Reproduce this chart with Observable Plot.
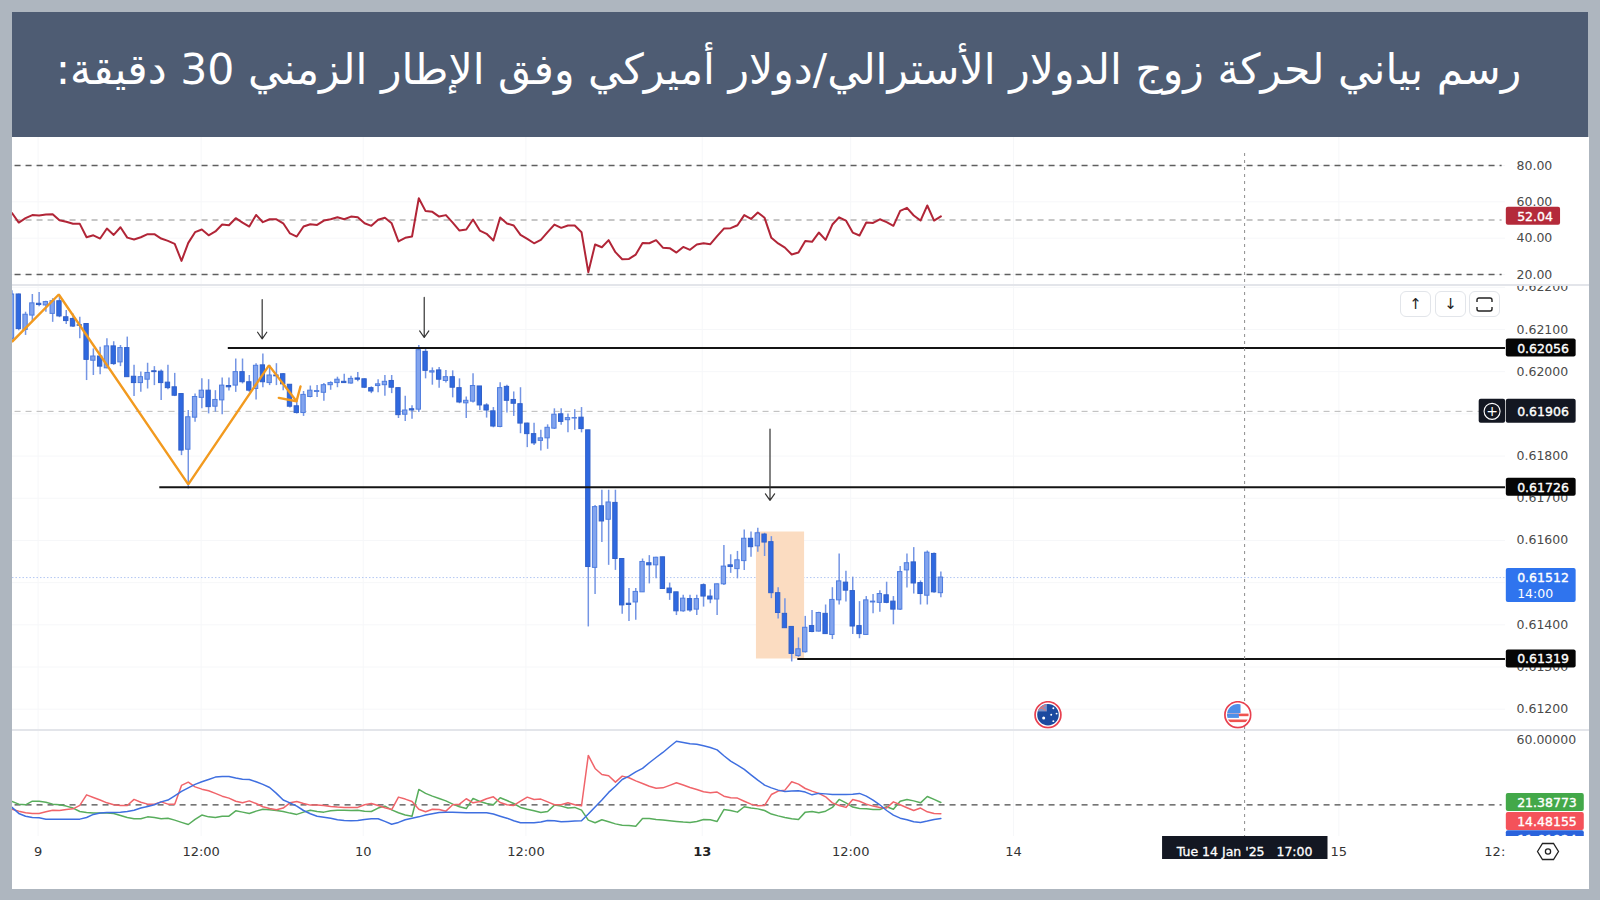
<!DOCTYPE html>
<html lang="ar">
<head>
<meta charset="utf-8">
<script src="https://cdn.jsdelivr.net/npm/d3@7"></script>
<script src="https://cdn.jsdelivr.net/npm/@observablehq/plot@0.6"></script>
<style>
html,body{margin:0;padding:0;width:1600px;height:900px;overflow:hidden;background:#aeb6bf;font-family:"DejaVu Sans",sans-serif}
#banner{position:absolute;left:12px;top:12px;width:1576px;height:125px;background:#4e5c73;color:#fff}
#banner h1{position:absolute;left:0;right:0;top:0;margin:0;line-height:114px;font-weight:400;font-size:42.6px;text-align:center;direction:rtl;padding-right:23px;font-family:"DejaVu Sans",sans-serif;white-space:nowrap}
#panel{position:absolute;left:12px;top:137px;width:1577px;height:752px;background:#fff}
.pane{position:absolute;left:12px}
.pane svg{display:block;max-width:none;background:transparent}
.sep{position:absolute;left:12px;width:1577px;height:2px;background:#e3e5ea}
.btn{position:absolute;top:291px;width:29px;height:24px;border:1px solid #e2e5ea;border-radius:6px;background:#fff;display:flex;align-items:center;justify-content:center;font-size:15px;color:#222}
</style>
</head>
<body>
<div id="banner"><h1>رسم بياني لحركة زوج الدولار الأسترالي/دولار أميركي وفق الإطار الزمني 30 دقيقة:</h1></div>
<div id="panel"></div>
<div class="pane" id="rsiPane" style="top:137px"></div>
<div class="pane" id="pricePane" style="top:285px"></div>
<div class="pane" id="dmiPane" style="top:730px"></div>
<div class="pane" id="timePane" style="top:836px"></div>
<div class="sep" style="top:284px"></div>
<div class="sep" style="top:729px"></div>
<div class="btn" style="left:1400px">↑</div>
<div class="btn" style="left:1435px">↓</div>
<div class="btn" style="left:1469px"><svg width="17" height="15" viewBox="0 0 17 15" fill="none" stroke="#222" stroke-width="1.4"><path d="M1 5V3a2 2 0 0 1 2-2h11a2 2 0 0 1 2 2v2M1 10v2a2 2 0 0 0 2 2h11a2 2 0 0 0 2-2v-2"/></svg></div>
<svg style="position:absolute;left:1536px;top:842px" width="24" height="19" viewBox="0 0 24 19" fill="none" stroke="#222" stroke-width="1.3"><path d="M1.5 9.5 6.5 1.5h11l5 8-5 8h-11z"/><circle cx="12" cy="9.5" r="2.6"/></svg>

<script>
const open = [0.62078,0.62183,0.62099,0.62133,0.62161,0.62157,0.62137,0.62167,0.62129,0.62125,0.62110,0.62113,0.62026,0.62036,0.62008,0.62060,0.62022,0.62056,0.61988,0.61973,0.61981,0.62001,0.62000,0.61974,0.61963,0.61947,0.61815,0.61891,0.61938,0.61955,0.61917,0.61932,0.61966,0.61967,0.61999,0.61975,0.61959,0.62015,0.61973,0.61991,0.61994,0.61969,0.61918,0.61902,0.61940,0.61952,
0.61950,0.61968,0.61973,0.61976,0.61972,0.61984,0.61982,0.61961,0.61966,0.61968,0.61978,0.61961,0.61898,0.61911,0.61910,0.62047,0.61998,0.62003,0.61978,0.61987,0.61961,0.61925,0.61929,0.61965,0.61920,0.61906,0.61869,0.61964,0.61933,0.61923,0.61877,0.61852,0.61836,0.61842,0.61865,0.61899,0.61885,0.61889,0.61891,0.61861,0.61535,0.61681,0.61649,0.61689,0.61556,0.61450,0.61453,
0.61477,0.61546,0.61541,0.61560,0.61486,0.61477,0.61432,0.61461,0.61436,0.61494,0.61467,0.61460,0.61496,0.61541,0.61532,0.61551,0.61604,0.61586,0.61614,0.61596,0.61475,0.61426,0.61395,0.61326,0.61335,0.61397,0.61384,0.61426,0.61376,0.61458,0.61500,0.61480,0.61397,0.61376,0.61453,0.61452,0.61470,0.61455,0.61436,0.61529,0.61548,0.61499,0.61469,0.61568,0.61475];
const high = [0.62192,0.62184,0.62141,0.62183,0.62188,0.62167,0.62173,0.62180,0.62145,0.62137,0.62129,0.62113,0.62054,0.62058,0.62078,0.62071,0.62062,0.62082,0.62015,0.61999,0.62020,0.62012,0.62004,0.62015,0.61996,0.61947,0.61908,0.61947,0.61983,0.61981,0.61955,0.61985,0.61985,0.62030,0.62030,0.61991,0.62019,0.62042,0.62015,0.62019,0.61996,0.61969,0.61933,0.61953,0.61966,0.61967,
0.61972,0.61976,0.61987,0.61994,0.61989,0.61998,0.61983,0.61964,0.61981,0.61991,0.61991,0.61962,0.61942,0.61919,0.62062,0.62057,0.62009,0.62010,0.62003,0.62002,0.61983,0.61940,0.61995,0.61965,0.61924,0.61915,0.61974,0.61968,0.61952,0.61962,0.61878,0.61878,0.61861,0.61874,0.61912,0.61912,0.61900,0.61910,0.61915,0.61861,0.61683,0.61719,0.61719,0.61719,0.61556,0.61486,0.61486,
0.61556,0.61564,0.61560,0.61560,0.61499,0.61477,0.61470,0.61470,0.61470,0.61497,0.61483,0.61497,0.61588,0.61566,0.61574,0.61625,0.61620,0.61629,0.61617,0.61609,0.61488,0.61462,0.61395,0.61369,0.61420,0.61434,0.61430,0.61447,0.61488,0.61568,0.61527,0.61513,0.61455,0.61467,0.61472,0.61481,0.61501,0.61467,0.61538,0.61568,0.61583,0.61504,0.61575,0.61570,0.61525];
const low = [0.62074,0.62097,0.62086,0.62117,0.62154,0.62141,0.62117,0.62128,0.62112,0.62105,0.62078,0.61979,0.61991,0.61993,0.62007,0.62015,0.62012,0.61987,0.61941,0.61951,0.61959,0.61967,0.61932,0.61957,0.61941,0.61801,0.61722,0.61880,0.61912,0.61900,0.61904,0.61898,0.61954,0.61951,0.61971,0.61951,0.61933,0.61962,0.61967,0.61967,0.61955,0.61914,0.61900,0.61894,0.61938,0.61939,
0.61930,0.61956,0.61962,0.61972,0.61970,0.61976,0.61960,0.61948,0.61950,0.61942,0.61948,0.61889,0.61882,0.61887,0.61903,0.61983,0.61968,0.61961,0.61973,0.61938,0.61924,0.61889,0.61926,0.61908,0.61890,0.61867,0.61867,0.61902,0.61894,0.61853,0.61820,0.61825,0.61812,0.61816,0.61863,0.61873,0.61855,0.61861,0.61855,0.61395,0.61472,0.61595,0.61541,0.61529,0.61425,0.61408,0.61411,
0.61477,0.61497,0.61509,0.61484,0.61458,0.61422,0.61430,0.61430,0.61422,0.61442,0.61450,0.61422,0.61493,0.61522,0.61509,0.61529,0.61560,0.61572,0.61562,0.61462,0.61414,0.61391,0.61312,0.61323,0.61333,0.61381,0.61383,0.61377,0.61365,0.61447,0.61454,0.61377,0.61367,0.61375,0.61426,0.61430,0.61450,0.61400,0.61434,0.61487,0.61473,0.61447,0.61447,0.61475,0.61464];
const close = [0.62183,0.62101,0.62135,0.62162,0.62158,0.62165,0.62167,0.62131,0.62120,0.62107,0.62109,0.62028,0.62036,0.62012,0.62060,0.62018,0.62056,0.61987,0.61973,0.61987,0.61997,0.61999,0.61973,0.61961,0.61943,0.61813,0.61892,0.61940,0.61955,0.61916,0.61933,0.61967,0.61963,0.61999,0.61975,0.61955,0.62014,0.61975,0.61991,0.61989,0.61970,0.61917,0.61902,0.61945,0.61955,0.61954,
0.61968,0.61973,0.61981,0.61973,0.61983,0.61981,0.61962,0.61953,0.61970,0.61976,0.61962,0.61897,0.61908,0.61908,0.62051,0.62002,0.62001,0.61981,0.61987,0.61962,0.61927,0.61931,0.61966,0.61920,0.61908,0.61870,0.61961,0.61931,0.61924,0.61877,0.61852,0.61830,0.61842,0.61867,0.61898,0.61881,0.61890,0.61890,0.61864,0.61537,0.61679,0.61645,0.61690,0.61556,0.61446,0.61447,0.61478,
0.61549,0.61541,0.61559,0.61485,0.61475,0.61432,0.61462,0.61434,0.61461,0.61467,0.61460,0.61496,0.61538,0.61537,0.61553,0.61604,0.61584,0.61617,0.61595,0.61475,0.61428,0.61392,0.61331,0.61342,0.61393,0.61383,0.61428,0.61378,0.61459,0.61503,0.61481,0.61396,0.61378,0.61458,0.61455,0.61473,0.61452,0.61436,0.61525,0.61546,0.61498,0.61473,0.61571,0.61477,0.61512];

const rsi = [53.8,48.6,51.0,52.7,52.5,53.0,53.2,49.9,49.0,47.9,47.9,40.5,41.6,39.8,45.3,41.8,46.0,40.3,39.3,40.5,42.2,42.2,39.8,38.5,36.9,27.5,37.4,43.3,44.8,41.6,43.7,47.5,47.1,51.0,48.6,46.4,52.8,48.8,50.4,50.4,48.2,42.6,40.9,46.4,47.7,47.3,49.7,50.4,51.5,50.4,51.9,51.5,48.2,46.8,50.1,51.2,48.2,38.2,40.2,40.9,62.0,54.9,54.5,51.9,52.7,48.6,44.2,44.8,50.3,44.2,
42.4,38.7,51.4,48.1,47.0,41.8,39.6,37.2,39.1,43.3,47.5,45.7,47.0,47.0,43.3,21.3,36.5,35.0,38.9,32.3,28.4,28.6,31.0,37.4,37.2,38.9,34.8,34.5,32.1,35.2,33.6,36.5,37.2,36.7,41.1,45.3,45.5,47.1,52.7,50.6,54.1,51.2,40.2,37.1,34.8,31.0,32.1,38.5,38.0,43.1,39.1,47.5,51.5,49.7,43.1,41.5,48.6,48.4,50.4,48.8,46.8,55.0,56.7,52.5,49.7,58.0,49.7,52.04];

const diPlus = [22.0,20.4,20.0,22.2,22.2,21.6,20.4,20.0,19.2,18.0,15.9,15.3,14.9,14.9,14.9,14.7,13.4,12.2,11.4,11.4,12.6,12.2,11.4,11.8,10.6,9.2,7.9,11.0,13.7,12.6,12.2,13.0,13.0,16.3,15.5,14.7,16.1,17.3,16.9,16.5,15.9,14.9,14.1,15.5,16.7,15.9,15.5,16.3,16.7,16.7,16.5,16.7,16.1,15.9,18.0,19.2,16.9,15.1,13.7,13.0,29.4,27.0,25.3,23.9,22.4,20.4,18.8,17.7,23.9,22.0,
20.8,20.0,24.3,22.6,20.8,18.4,17.3,16.3,15.3,15.9,19.8,19.2,18.0,18.4,16.7,10.6,9.0,10.8,9.6,8.3,7.5,7.3,6.9,11.6,11.6,11.0,10.6,10.2,9.8,9.4,9.2,9.8,11.0,10.8,9.8,17.1,16.5,15.5,18.8,18.0,17.5,16.5,14.3,13.2,12.2,11.4,11.0,15.5,15.9,15.1,16.1,18.4,23.3,21.2,18.6,17.7,17.5,17.1,17.1,18.8,17.3,22.2,23.3,22.4,21.2,25.1,23.3,21.39];
const diMinus = [17.3,16.1,15.1,14.7,14.7,15.7,16.7,16.5,17.1,17.5,19.6,26.1,24.5,22.9,21.2,20.0,19.6,19.6,23.3,21.6,20.4,20.4,21.8,20.4,20.4,31.9,33.9,31.0,29.6,28.6,27.0,25.3,24.1,22.2,21.2,22.4,20.8,18.8,17.7,16.9,18.0,21.2,22.0,20.8,19.8,19.8,19.6,19.0,18.6,18.4,18.4,18.4,20.0,20.8,19.6,18.2,17.1,24.7,23.5,22.0,17.3,15.7,17.3,17.1,16.1,20.0,20.4,23.7,21.2,22.0,
23.7,24.9,21.4,20.0,19.6,22.2,24.7,23.3,23.5,21.8,20.0,20.0,21.2,20.0,19.4,50.3,42.3,38.6,37.8,33.9,37.6,36.6,34.7,33.1,31.4,30.2,30.4,31.9,33.5,32.1,30.6,29.4,28.0,27.4,27.8,25.3,24.3,24.1,22.2,20.4,19.4,19.6,26.3,28.4,29.0,34.1,32.7,30.0,28.4,27.0,24.9,21.2,19.6,18.4,23.3,22.2,20.4,19.2,18.4,18.0,21.8,20.0,18.2,16.5,18.0,15.7,14.7,14.48];
const adx = [18.4,14.7,13.0,12.2,12.0,11.2,11.2,11.2,11.2,11.2,11.2,12.2,14.1,14.9,15.3,15.3,15.5,15.9,16.7,18.0,19.0,20.0,21.8,22.9,25.5,28.2,30.4,32.5,34.1,35.5,37.0,37.4,37.4,36.4,35.7,35.5,34.1,32.5,30.6,27.0,22.9,21.2,19.2,16.5,14.5,13.0,12.4,11.8,10.8,10.4,10.2,10.4,11.0,11.4,11.4,9.8,8.1,9.2,10.8,11.8,12.6,13.7,14.5,15.3,15.5,15.5,15.3,15.1,15.1,15.1,
15.1,14.3,13.0,11.8,10.2,9.0,9.0,9.0,9.4,10.4,10.2,9.6,9.8,10.0,10.2,14.3,18.6,22.9,27.6,31.4,35.5,37.6,40.2,42.3,45.8,49.0,52.1,55.6,59.0,58.2,57.4,57.2,56.2,55.2,53.7,50.1,46.8,44.3,41.7,38.4,35.1,32.1,30.4,29.0,28.2,28.4,28.6,27.8,26.1,27.0,26.7,26.3,26.3,26.3,26.5,27.0,25.3,22.9,20.0,16.5,13.7,11.8,10.8,9.6,9.2,10.0,11.0,11.6];

const priceTicks = [0.612,0.613,0.614,0.615,0.616,0.617,0.618,0.619,0.620,0.621,0.622];
const rsiTicks = [20,40,60,80];
const rsiLevels = [80,50,20];
const dmiTicks = [60];
const dmiLevel = 20;

const timeBars = [3.85,27.9,51.8,75.8,101.8,123.7,147.7,195.7,218.7];
const timeLabels = ["9","12:00","10","12:00","13","12:00","14","15","12:"];
const crossBar = 181.8;
const crossPrice = 0.61906;
const crossTime = "Tue 14 Jan '25\u00A0\u00A0\u00A017:00";
const lastPrice = 0.61512;
const lastTime = "14:00";

const levelBars = [31.9, 21.8, 115.9];
const levelPrices = [0.62056, 0.61726, 0.61319];

const zigBars = [0.07, 6.9, 26.0, 37.9, 41.96, 42.55];
const zigPrices = [0.62072, 0.62183, 0.61733, 0.62015, 0.61930, 0.61965];
const tailBars = [39.35, 41.96];
const tailPrices = [0.61938, 0.61930];

const arrowBars = [36.9, 60.8, 111.8];
const arrowFrom = [0.62171, 0.62176, 0.61864];
const arrowTo = [0.62078, 0.62081, 0.61695];

const zoneBars = [109.8, 116.9];
const zonePrices = [0.61620, 0.61319];

const eventBars = [152.8, 180.8];
const eventPrice = 0.61187;

// ---- layout and scales
const W = 1576, MR = 83;
const xDomain = [0.0737, 220.28];
const xOpts = {type:"linear", domain:xDomain, axis:null};
const axisFont = {fontFamily:"DejaVu Sans, sans-serif", fontSize:"12.5px", color:"#444"};
const GRID = "#f6f7f9", AXIS = "#4a4a4a";
const BADGE_X = 220.4;

const bars = open.map((o,i)=>({i,o,h:high[i],l:low[i],c:close[i]}));
const up = bars.filter(d=>d.c>=d.o), down = bars.filter(d=>d.c<d.o);
const series = a => a.map((v,i)=>({i,v}));

function badge(yVal, label, fill, xEnd, opts={}){
  const {top=9, bottom=9, dy=0, sub=null} = opts;
  const row = [{y:yVal}];
  const textStyle = {fill:"#fff",stroke:"#fff",strokeWidth:0.35,fontSize:12.5,textAnchor:"start"};
  const marks = [
    Plot.rect(row,{x1:()=>BADGE_X,x2:()=>xEnd,y1:"y",y2:"y",insetTop:-top,insetBottom:-bottom,dy,fill,rx:2}),
    Plot.text(row,{x:()=>222.0,y:"y",text:()=>label,dy:dy+0.5,...textStyle})
  ];
  if (sub) marks.push(Plot.text(row,{x:()=>222.0,y:"y",text:()=>sub,dy:dy+16.5,...textStyle,strokeWidth:0}));
  return marks;
}

// ---- RSI pane
const rsiPlot = Plot.plot({
  width:W,height:148,marginLeft:0,marginRight:MR,marginTop:0,marginBottom:0,style:axisFont,
  x:xOpts,y:{domain:[13.96,95.41]},
  marks:[
    Plot.ruleX(timeBars.slice(0,8),{stroke:GRID}),
    Plot.ruleY(rsiTicks,{stroke:GRID}),
    Plot.ruleY(rsiLevels,{x1:0.45,x2:xDomain[1]-0.5,stroke:d=>d===50?"#b4b4b4":"#5f5f5f",strokeDasharray:"6,5",strokeWidth:1.3}),
    Plot.ruleX([crossBar],{y1:86.6,y2:13.96,stroke:"#8d8d8d",strokeDasharray:"3,4"}),
    Plot.line(series(rsi),{x:"i",y:"v",stroke:"#b12537",strokeWidth:2,clip:"frame"}),
    Plot.axisY(rsiTicks,{anchor:"right",tickSize:0,tickPadding:11,tickFormat:d3.format(".2f"),label:null,fill:AXIS}),
    ...badge(52.04,"52.04","#b42a3a",228.4)
  ]
});
document.getElementById("rsiPane").append(rsiPlot);

// ---- price pane
const flagUS = "data:image/svg+xml,"+encodeURIComponent(`<svg xmlns="http://www.w3.org/2000/svg" viewBox="0 0 26 26"><defs><clipPath id="c"><circle cx="13" cy="13" r="10"/></clipPath></defs><circle cx="13" cy="13" r="12" fill="#fff" stroke="#e8404f" stroke-width="1.6"/><g clip-path="url(#c)"><rect width="26" height="26" fill="#fff"/><rect y="12" width="26" height="2.4" fill="#ef5350"/><rect y="17.5" width="26" height="2.4" fill="#ef5350"/><rect x="2" y="2" width="13.5" height="9.5" fill="#4d8fe8"/><rect x="3" y="12" width="11" height="4" fill="#4d8fe8"/></g></svg>`);
const flagAU = "data:image/svg+xml,"+encodeURIComponent(`<svg xmlns="http://www.w3.org/2000/svg" viewBox="0 0 26 26"><defs><clipPath id="c"><circle cx="13" cy="13" r="10"/></clipPath></defs><circle cx="13" cy="13" r="12" fill="#fff" stroke="#e8404f" stroke-width="1.6"/><g clip-path="url(#c)"><rect width="26" height="26" fill="#1c4a9f"/><rect x="2" y="2" width="10" height="8" fill="#7c93c8"/><path d="M3 4l8 5M11 4l-8 5" stroke="#e57373" stroke-width="1"/><circle cx="9" cy="16" r="1.4" fill="#fff"/><circle cx="18" cy="7" r=".9" fill="#fff"/><circle cx="21" cy="12" r=".9" fill="#fff"/><circle cx="16" cy="13" r=".9" fill="#fff"/><circle cx="18" cy="19" r=".9" fill="#fff"/></g></svg>`);

const pricePlot = Plot.plot({
  width:W,height:445,marginLeft:0,marginRight:MR,marginTop:0,marginBottom:0,style:axisFont,
  x:xOpts,y:{domain:[0.611495,0.622043]},
  marks:[
    Plot.ruleX(timeBars.slice(0,8),{stroke:GRID}),
    Plot.ruleY(priceTicks,{stroke:GRID}),
    Plot.axisY(priceTicks,{anchor:"right",tickSize:0,tickPadding:11,tickFormat:d3.format(".5f"),label:null,fill:AXIS}),
    Plot.ruleY([crossPrice],{x1:0.45,x2:xDomain[1],stroke:"#b9b9b9",strokeDasharray:"6,5"}),
    Plot.ruleY([lastPrice],{x1:0.07,x2:xDomain[1],stroke:"#b3c7f2",strokeDasharray:"1.5,2"}),
    Plot.rect([0],{x1:()=>zoneBars[0],x2:()=>zoneBars[1],y1:()=>zonePrices[0],y2:()=>zonePrices[1],fill:"#fbdcc1"}),
    Plot.ruleX(bars,{x:"i",y1:"l",y2:"h",stroke:"#7495e4",strokeWidth:1.5,clip:"frame"}),
    Plot.rect(up,{x1:d=>d.i-0.32,x2:d=>d.i+0.32,y1:"o",y2:"c",fill:"#82a4ee",stroke:"#4f7ddf",clip:"frame"}),
    Plot.rect(down,{x1:d=>d.i-0.32,x2:d=>d.i+0.32,y1:"o",y2:"c",fill:"#2f69e0",stroke:"#3160c8",clip:"frame"}),
    Plot.line(zigBars.map((x,k)=>({x,y:zigPrices[k]})),{x:"x",y:"y",stroke:"#f29a1f",strokeWidth:2.4,strokeLinejoin:"miter",clip:"frame"}),
    Plot.line(tailBars.map((x,k)=>({x,y:tailPrices[k]})),{x:"x",y:"y",stroke:"#f29a1f",strokeWidth:2.4}),
    Plot.ruleY(levelPrices,{x1:d=>levelBars[levelPrices.indexOf(d)],x2:xDomain[1],stroke:"#141414",strokeWidth:2}),
    Plot.arrow(arrowBars.map((x,k)=>({x,y1:arrowFrom[k],y2:arrowTo[k]})),{x:"x",y1:"y1",y2:"y2",stroke:"#333",strokeWidth:1.2,headLength:10,headAngle:70,bend:0}),
    Plot.ruleX([crossBar],{stroke:"#8d8d8d",strokeDasharray:"3,4"}),
    Plot.image([eventBars[0]],{x:d=>d,y:()=>eventPrice,src:flagAU,width:28,height:28}),
    Plot.image([eventBars[1]],{x:d=>d,y:()=>eventPrice,src:flagUS,width:28,height:28}),
    ...levelPrices.flatMap(p=>badge(p,d3.format(".5f")(p),"#050505",230.7)),
    ...badge(crossPrice,d3.format(".5f")(crossPrice),"#131722",230.7,{top:12,bottom:12}),
    Plot.rect([crossPrice],{x1:()=>216.4,x2:()=>220.3,y1:d=>d,y2:d=>d,insetTop:-12,insetBottom:-12,fill:"#131722",rx:2}),
    Plot.dot([crossPrice],{x:()=>218.3,y:d=>d,r:8,stroke:"#fff",strokeWidth:1.1,fill:"none"}),
    Plot.text([crossPrice],{x:()=>218.3,y:d=>d,text:()=>"+",fill:"#fff",fontSize:14}),
    ...badge(lastPrice,d3.format(".5f")(lastPrice),"#2f74ee",230.7,{top:9,bottom:25,sub:lastTime})
  ]
});
document.getElementById("pricePane").append(pricePlot);

// ---- DMI pane
const dmiPlot = Plot.plot({
  width:W,height:106,marginLeft:0,marginRight:MR,marginTop:0,marginBottom:0,style:axisFont,
  x:xOpts,y:{domain:[0.55,65.58]},
  marks:[
    Plot.ruleX(timeBars.slice(0,8),{stroke:GRID}),
    Plot.ruleY([dmiLevel],{x1:0.45,x2:xDomain[1]-0.5,stroke:"#4a4a4a",strokeDasharray:"6,5",strokeWidth:1.2}),
    Plot.ruleX([crossBar],{stroke:"#8d8d8d",strokeDasharray:"3,4"}),
    Plot.line(series(diPlus),{x:"i",y:"v",stroke:"#58ad5c",strokeWidth:1.5,clip:"frame"}),
    Plot.line(series(diMinus),{x:"i",y:"v",stroke:"#f0646a",strokeWidth:1.5,clip:"frame"}),
    Plot.line(series(adx),{x:"i",y:"v",stroke:"#3f6fe0",strokeWidth:1.5,clip:"frame"}),
    Plot.axisY(dmiTicks,{anchor:"right",tickSize:0,tickPadding:11,tickFormat:d3.format(".5f"),label:null,fill:AXIS}),
    ...badge(21.39,"21.38773","#43a849",231.9),
    ...badge(14.48,"14.48155","#f4525a",231.9,{dy:7.7}),
    ...badge(11.6,"11.61924","#2a63dc",231.9,{dy:21.3})
  ]
});
document.getElementById("dmiPane").append(dmiPlot);

// ---- time axis
const ticks = timeBars.map((x,k)=>({x,t:timeLabels[k]}));
const timePlot = Plot.plot({
  width:W,height:52,marginLeft:0,marginRight:0,marginTop:0,marginBottom:0,style:axisFont,
  x:{type:"linear",domain:[xDomain[0],xDomain[0]+W/6.78],axis:null},
  y:{domain:[52,0],axis:null},
  marks:[
    Plot.text(ticks.filter(d=>d.t!=="13"),{x:"x",y:()=>15,text:"t",fill:"#333",fontSize:13}),
    Plot.text(ticks.filter(d=>d.t==="13"),{x:"x",y:()=>15,text:"t",fill:"#222",fontSize:13,fontWeight:700}),
    Plot.rect([crossBar],{x1:()=>169.7,x2:()=>194.1,y1:()=>0,y2:()=>23,fill:"#131722"}),
    Plot.text([crossBar],{x:d=>d,y:()=>15,text:()=>crossTime,fill:"#fff",stroke:"#fff",strokeWidth:0.3,fontSize:12.5})
  ]
});
document.getElementById("timePane").append(timePlot);
</script>
</body>
</html>
